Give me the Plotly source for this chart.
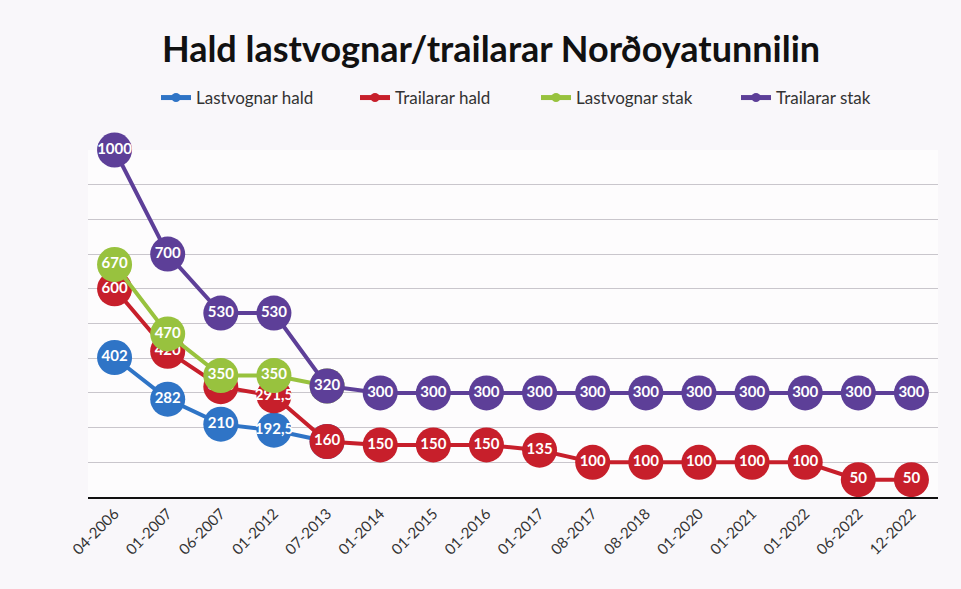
import plotly.graph_objects as go

categories = ["04-2006", "01-2007", "06-2007", "01-2012", "07-2013", "01-2014", "01-2015",
              "01-2016", "01-2017", "08-2017", "08-2018", "01-2020", "01-2021", "01-2022",
              "06-2022", "12-2022"]
lastvognar_hald = [402, 282, 210, 192.5, 160] + [None] * 11
trailarar_hald = [600, 420, 318, 291.5, 160, 150, 150, 150, 135, 100, 100, 100, 100, 100, 50, 50]
lastvognar_stak = [670, 470, 350, 350, 320] + [None] * 11
trailarar_stak = [1000, 700, 530, 530, 320, 300, 300, 300, 300, 300, 300, 300, 300, 300, 300, 300]

series = [
    ("Lastvognar hald", lastvognar_hald, "#2f74c6"),
    ("Trailarar hald", trailarar_hald, "#c71f2b"),
    ("Lastvognar stak", lastvognar_stak, "#98c23e"),
    ("Trailarar stak", trailarar_stak, "#5d3f98"),
]
legend_text_x_px = [198, 397, 578, 778]

W, H = 961, 589


def fmt(v):
    if v is None:
        return ""
    if float(v).is_integer():
        return str(int(v))
    return str(v).replace(".", ",")


fig = go.Figure()
for name, vals, col in series:
    fig.add_trace(go.Scatter(
        x=categories, y=vals, name=name, mode="lines+markers+text",
        line=dict(color=col, width=4),
        marker=dict(size=35, color=col),
        text=[fmt(v) for v in vals], textposition="middle center",
        textfont=dict(color="white", size=15, family="Lato", weight="bold"),
        showlegend=False, cliponaxis=False, connectgaps=False,
    ))

legend_names = ["legend", "legend2", "legend3", "legend4"]
for (name, vals, col), lg in zip(series, legend_names):
    fig.add_trace(go.Scatter(
        x=[None], y=[None], name=name, mode="lines+markers",
        line=dict(color=col, width=5), marker=dict(size=9, color=col),
        showlegend=True, legend=lg,
    ))

legend_common = dict(orientation="h", yref="container", y=1 - 98 / H, yanchor="middle",
                     xref="container", xanchor="left",
                     font=dict(family="Lato", size=17, color="#333333"),
                     bgcolor="rgba(0,0,0,0)", borderwidth=0)

layout_legends = {}
for lg, px in zip(legend_names, legend_text_x_px):
    layout_legends[lg] = dict(legend_common, x=(px - 42) / W)

fig.update_layout(
    width=W, height=H,
    paper_bgcolor="#f9f7fa", plot_bgcolor="#fdfcfd",
    margin=dict(l=88, r=23, t=150, b=92),
    title=dict(text="<b>Hald lastvognar/trailarar Norðoyatunnilin</b>",
               x=491 / W, xanchor="center", y=1 - 49 / H, yanchor="middle",
               font=dict(family="Lato", size=36, color="#111111")),
    xaxis=dict(type="category", showgrid=False, showline=True, linecolor="#111111",
               linewidth=2, tickangle=-45, ticks="",
               tickfont=dict(family="Lato", size=15, color="#333333"),
               range=[-0.5, 15.5]),
    yaxis=dict(range=[0, 1000], dtick=100, showticklabels=False, showgrid=True,
               gridcolor="#c9c6cc", gridwidth=1, zeroline=False, ticks=""),
    showlegend=True,
    **layout_legends,
)

fig.write_html("out.html", config={"displayModeBar": False},
               post_script="document.body.style.margin='0';")
